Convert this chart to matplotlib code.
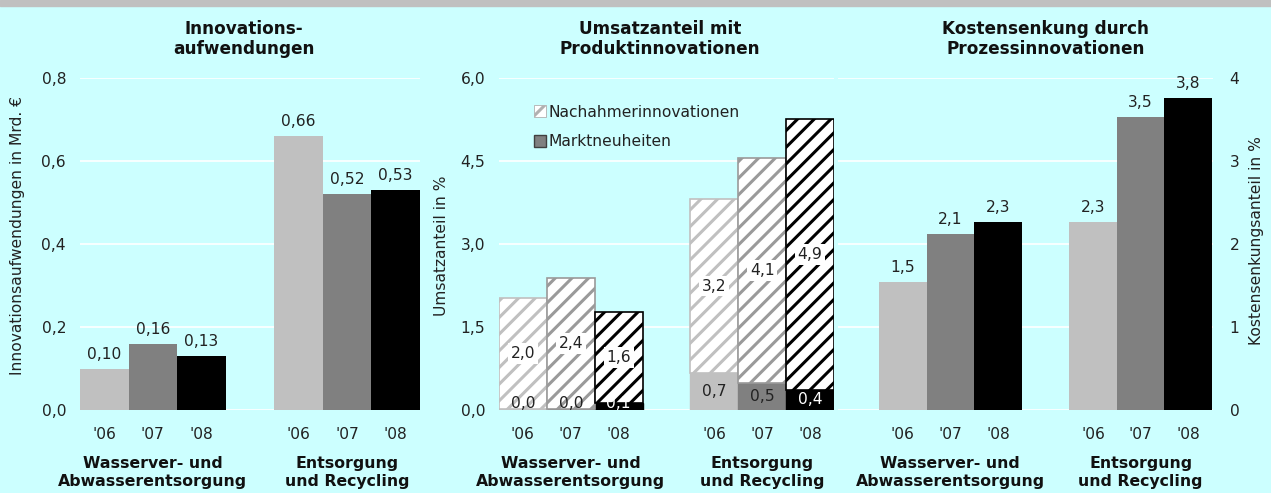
import matplotlib
matplotlib.use("Agg")
import matplotlib.pyplot as plt
from matplotlib.patches import Patch, Rectangle
from matplotlib.transforms import blended_transform_factory

plt.rcParams["font.family"] = ["DejaVu Sans"]
plt.rcParams["hatch.linewidth"] = 2.2

# data
years = ["'06", "'07", "'08"]
groups = ["Wasserver- und\nAbwasserentsorgung", "Entsorgung\nund Recycling"]
aufwendungen = [0.10, 0.16, 0.13, 0.66, 0.52, 0.53]          # Mrd. EUR
marktneuheiten = [0.02, 0.01, 0.13, 0.66, 0.49, 0.37]        # % Umsatz
nachahmer = [2.00, 2.38, 1.64, 3.16, 4.06, 4.89]             # % Umsatz
kostensenkung = [1.54, 2.12, 2.27, 2.26, 3.53, 3.76]         # %

W, H = 1271, 493
BG = "#CCFFFF"
TXT = "#222222"
FS = 11.2      # normal text
FB = 11.3      # bold group labels
FT = 12.2      # bold titles
year_colors = ["#C0C0C0", "#808080", "#000000"]
hatch_colors = ["#C0C0C0", "#9A9A9A", "#000000"]
xpos = [0, 1, 2, 4, 5, 6]
bar_colors = year_colors * 2

fig = plt.figure(figsize=(W / 100, H / 100), dpi=100, facecolor=BG)
fig.patches.append(Rectangle((0, 1 - 6 / H), 1, 6 / H, transform=fig.transFigure,
                             color="#C0C0C0", zorder=0))


def make_axes(left, right, xlim=(-0.5, 6.5)):
    ax = fig.add_axes([left / W, 1 - 410 / H, (right - left) / W, 332 / H])
    ax.set_facecolor(BG)
    for s in ax.spines.values():
        s.set_visible(False)
    ax.set_axisbelow(True)
    ax.grid(axis="y", color="white", linewidth=1.2)
    ax.set_xlim(*xlim)
    ax.set_xticks(xpos)
    ax.set_xticklabels(years * 2)
    ax.tick_params(length=0, labelsize=FS, labelcolor=TXT)
    ax.tick_params(axis="x", pad=12)
    ax.tick_params(axis="y", pad=10)
    tr = blended_transform_factory(ax.transData, ax.transAxes)
    for gx, g in zip([1, 5], groups):
        ax.text(gx, -0.138, g, transform=tr, ha="center", va="top", fontsize=FB,
                fontweight="bold", color="#111111", linespacing=1.3)
    return ax, tr


def comma(v, n):
    return f"{v:.{n}f}".replace(".", ",")


# panel 1
ax1, tr1 = make_axes(80, 420)
ax1.bar(xpos, aufwendungen, width=1.0, color=bar_colors)
ax1.set_ylim(0, 0.8)
ax1.set_yticks([0, 0.2, 0.4, 0.6, 0.8])
ax1.set_yticklabels([comma(v, 1) for v in [0, 0.2, 0.4, 0.6, 0.8]])
for x, v in zip(xpos, aufwendungen):
    ax1.annotate(comma(v, 2), (x, v), xytext=(0, 5), textcoords="offset points",
                 ha="center", va="bottom", fontsize=FS, color=TXT)
ax1.text(2.88, 1.175, "Innovations-\naufwendungen", transform=tr1, ha="center",
         va="top", fontsize=FT, fontweight="bold", color="#111111", linespacing=1.15)
fig.text(18 / W, 1 - 236 / H, "Innovationsaufwendungen in Mrd. \u20ac", rotation=90,
         ha="center", va="center", fontsize=FS, color=TXT)

# panel 2
ax2, tr2 = make_axes(499, 834)
ax2.bar(xpos, marktneuheiten, width=1.0, color=bar_colors, edgecolor=bar_colors,
        linewidth=1)
for x, b, v, c in zip(xpos, marktneuheiten, nachahmer, hatch_colors * 2):
    ax2.bar(x, v, bottom=b, width=1.0, color="white", edgecolor=c, hatch="//",
            linewidth=1.2)
for i, (x, b, v) in enumerate(zip(xpos, marktneuheiten, nachahmer)):
    ax2.text(x, b + v / 2, comma(v, 1), ha="center", va="center", fontsize=FS,
             color=TXT, bbox=dict(facecolor="white", edgecolor="none", pad=2.0))
    ax2.text(x, max(b / 2, 0.11), comma(b, 1), ha="center", va="center",
             fontsize=FS, color="white" if i % 3 == 2 else TXT)
ax2.set_ylim(0, 6)
ax2.set_yticks([0, 1.5, 3.0, 4.5, 6.0])
ax2.set_yticklabels([comma(v, 1) for v in [0, 1.5, 3.0, 4.5, 6.0]])
ax2.text(2.86, 1.175, "Umsatzanteil mit\nProduktinnovationen", transform=tr2,
         ha="center", va="top", fontsize=FT, fontweight="bold", color="#111111",
         linespacing=1.15)
fig.text(441 / W, 1 - 246 / H, "Umsatzanteil in %", rotation=90, ha="center",
         va="center", fontsize=FS, color=TXT)
handles = [Patch(facecolor="white", edgecolor="#B0B0B0", hatch="//", linewidth=0.6),
           Patch(facecolor="#808080", edgecolor="#404040", linewidth=1)]
ax2.legend(handles, ["Nachahmerinnovationen", "Marktneuheiten"], loc="upper left",
           bbox_to_anchor=(0.105, 0.92), frameon=False, fontsize=FS,
           handlelength=0.75, handleheight=0.75, handletextpad=0.2, borderpad=0,
           borderaxespad=0, labelspacing=0.95, labelcolor=TXT)

# panel 3
ax3, tr3 = make_axes(838, 1213, xlim=(-1.36, 6.52))
ax3.bar(xpos, kostensenkung, width=1.0, color=bar_colors)
ax3.set_ylim(0, 4)
ax3.set_yticks([0, 1, 2, 3, 4])
ax3.yaxis.tick_right()
ax3.tick_params(axis="y", pad=12)
for x, v in zip(xpos, kostensenkung):
    ax3.annotate(comma(v, 1), (x, v), xytext=(0, 5), textcoords="offset points",
                 ha="center", va="bottom", fontsize=FS, color=TXT)
ax3.text(3, 1.175, "Kostensenkung durch\nProzessinnovationen", transform=tr3,
         ha="center", va="top", fontsize=FT, fontweight="bold", color="#111111",
         linespacing=1.15)
fig.text(1256 / W, 1 - 241 / H, "Kostensenkungsanteil in %", rotation=90,
         ha="center", va="center", fontsize=FS, color=TXT)

fig.savefig("out.png", dpi=100, facecolor=BG)
